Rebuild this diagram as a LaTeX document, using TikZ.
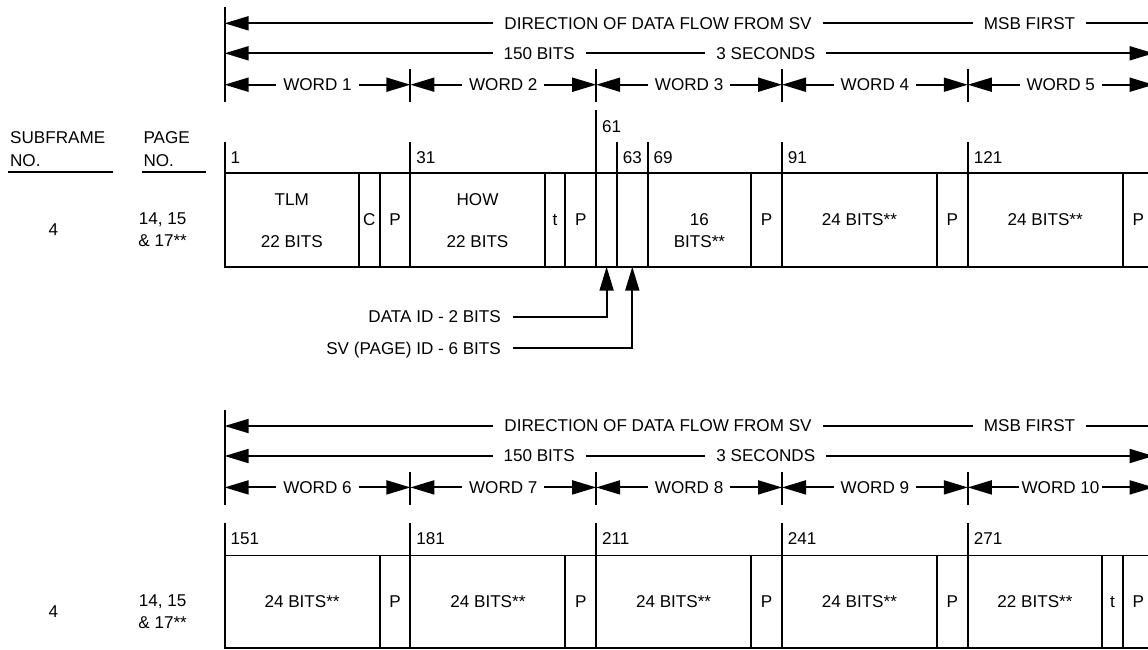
\documentclass[tikz,border=0pt]{standalone}
\usepackage{fontspec}
\setmainfont{Liberation Sans}
\usepackage{tikz}
\usetikzlibrary{arrows.meta,positioning}

\begin{document}
\begin{tikzpicture}[x=1pt,y=-1pt,line width=1.9pt,>={Triangle[length=24pt,width=14pt]},
	font=\fontsize{17.1}{20}\selectfont,
	txt/.style={inner sep=0pt, text height=11.8pt, text depth=0pt},
	hdr/.style={txt, inner xsep=10pt},
	wrd/.style={txt, inner xsep=6pt},
	num/.style={txt, anchor=west, inner xsep=5pt},
	idtxt/.style={txt, anchor=east, inner xsep=11.5pt}]
			\useasboundingbox (0,0) rectangle (1148,649);
			
			% column heads
			\node[txt, anchor=west] (sub) at (9.2,137.3) {SUBFRAME};
			\node[txt] (subno) [below right=9.2pt and 0pt of sub.south west] {NO.};
			\node[txt, anchor=west] (page) at (142.6,137.3) {PAGE};
			\node[txt] (pageno) [below right=9.2pt and 0pt of page.south west] {NO.};
			\draw (8.3,172.3) -- (112.7,172.3) (142.3,172.3) -- (205.7,172.3);
			
			% words 1 to 5
			\draw (224.6,7.3) -- (224.6,102.3)
			(410.4,69) -- (410.4,102.3) (596.2,69) -- (596.2,102.3)
			(782,69) -- (782,102.3) (967.8,69) -- (967.8,102.3)
			(1153.6,69) -- (1153.6,102.3);
			\coordinate (w0) at (224.6,84.7);
			\coordinate (w1) at (410.4,84.7);
			\coordinate (w2) at (596.2,84.7);
			\coordinate (w3) at (782,84.7);
			\coordinate (w4) at (967.8,84.7);
			\coordinate (w5) at (1153.6,84.7);
			
			\node[hdr] (dir1) at (658,23.3) {DIRECTION OF DATA FLOW FROM SV};
			\node[hdr] (msb1) at (1029.5,23.3) {MSB FIRST};
			\node[hdr] (bits1) at (539.2,53.3) {150 BITS};
			\node[hdr] (sec1) at (765.8,53.3) {3 SECONDS};
			\node[wrd] (wd1) at (317.5,84.7) {WORD 1};
			\node[wrd] (wd2) at (503.3,84.7) {WORD 2};
			\node[wrd] (wd3) at (689.1,84.7) {WORD 3};
			\node[wrd] (wd4) at (874.9,84.7) {WORD 4};
			\node[wrd] (wd5) at (1060.7,84.7) {WORD 5};
			
			\path
			(dir1) edge[->] (dir1 -| w0)
			(dir1) edge (msb1)
			(msb1) edge (msb1 -| w5)
			(bits1) edge[->] (bits1 -| w0)
			(bits1) edge (sec1)
			(sec1) edge[->] (sec1 -| w5)
			(wd1) edge[->] (w0) (wd1) edge[->] (w1)
			(wd2) edge[->] (w1) (wd2) edge[->] (w2)
			(wd3) edge[->] (w2) (wd3) edge[->] (w3)
			(wd4) edge[->] (w3) (wd4) edge[->] (w4)
			(wd5) edge[->] (w4) (wd5) edge[->] (w5);
			
			\node[txt] (sf1) at (53.3,230) {4};
			\node[txt] (pg1) at (162.6,219) {14, 15};
			\node[txt] (pg1b) [below=8.2pt of pg1] {\& 17**};
			
			\draw (224.6,173.3) rectangle (1153.6,266.7);
			\draw (224.6,142.3) -- (224.6,173.3)
			(359,173.3) -- (359,266.7) (379.6,173.3) -- (379.6,266.7)
			(410.4,142.3) -- (410.4,266.7)
			(544.7,173.3) -- (544.7,266.7) (565.3,173.3) -- (565.3,266.7)
			(596.2,110) -- (596.2,266.7)
			(617,142.3) -- (617,266.7) (647.7,142.3) -- (647.7,266.7)
			(751,173.3) -- (751,266.7)
			(782,142.3) -- (782,266.7)
			(936.8,173.3) -- (936.8,266.7)
			(967.8,142.3) -- (967.8,266.7)
			(1122.7,173.3) -- (1122.7,266.7);
			
			\node[num] (n1) at (224.6,157.7) {1};
			\node[num] (n31) at (410.4,157.7) {31};
			\node[num] (n61) at (596.2,126.7) {61};
			\node[num] (n63) at (617,157.7) {63};
			\node[num] (n69) at (647.7,157.7) {69};
			\node[num] (n91) at (782,157.7) {91};
			\node[num] (n121) at (967.8,157.7) {121};
			
			\node[txt] (tlm) at (291.8,199.3) {TLM};
			\node[txt] (tlmb) [below=28.9pt of tlm] {22 BITS};
			\node[txt] (c1) at (369.3,220) {C};
			\node[txt] (p1) at (395,220) {P};
			\node[txt] (how) at (477.5,199.3) {HOW};
			\node[txt] (howb) [below=28.9pt of how] {22 BITS};
			\node[txt] (t2) at (555,220) {t};
			\node[txt] (p2) at (580.7,220) {P};
			\node[txt] (d3) at (699.4,220) {16};
			\node[txt] (d3b) [below=8.2pt of d3] {BITS**};
			\node[txt] (p3) at (766.5,220) {P};
			\node[txt] (d4) at (859.4,220) {24 BITS**};
			\node[txt] (p4) at (952.3,220) {P};
			\node[txt] (d5) at (1045.2,220) {24 BITS**};
			\node[txt] (p5) at (1138.2,220) {P};
			
			% data id and sv id
			\coordinate (did) at (606.6,266.7);
			\coordinate (sid) at (632.3,266.7);
			\node[idtxt] (dataid) at (513.3,316.7) {DATA ID - 2 BITS};
			\node[idtxt] (svid) at (513.3,348.3) {SV (PAGE) ID - 6 BITS};
			\draw[->] (dataid) -| (did);
			\draw[->] (svid) -| (sid);
			
			% words 6 to 10
			\draw (224.6,410) -- (224.6,505)
			(410.4,471.7) -- (410.4,505) (596.2,471.7) -- (596.2,505)
			(782,471.7) -- (782,505) (967.8,471.7) -- (967.8,505)
			(1153.6,471.7) -- (1153.6,505);
			\coordinate (v0) at (224.6,487.4);
			\coordinate (v1) at (410.4,487.4);
			\coordinate (v2) at (596.2,487.4);
			\coordinate (v3) at (782,487.4);
			\coordinate (v4) at (967.8,487.4);
			\coordinate (v5) at (1153.6,487.4);
			
			\node[hdr] (dir2) at (658,426) {DIRECTION OF DATA FLOW FROM SV};
			\node[hdr] (msb2) at (1029.5,426) {MSB FIRST};
			\node[hdr] (bits2) at (539.2,456) {150 BITS};
			\node[hdr] (sec2) at (765.8,456) {3 SECONDS};
			\node[wrd] (wd6) at (317.5,487.4) {WORD 6};
			\node[wrd] (wd7) at (503.3,487.4) {WORD 7};
			\node[wrd] (wd8) at (689.1,487.4) {WORD 8};
			\node[wrd] (wd9) at (874.9,487.4) {WORD 9};
			\node[wrd, inner xsep=2pt] (wd10) at (1060.5,487.4) {WORD 10};
			
			\path
			(dir2) edge[->] (dir2 -| v0)
			(dir2) edge (msb2)
			(msb2) edge (msb2 -| v5)
			(bits2) edge[->] (bits2 -| v0)
			(bits2) edge (sec2)
			(sec2) edge[->] (sec2 -| v5)
			(wd6) edge[->] (v0) (wd6) edge[->] (v1)
			(wd7) edge[->] (v1) (wd7) edge[->] (v2)
			(wd8) edge[->] (v2) (wd8) edge[->] (v3)
			(wd9) edge[->] (v3) (wd9) edge[->] (v4)
			(wd10) edge[->] (v4) (wd10) edge[->] (v5);
			
			\node[txt] (sf2) at (53.3,611.7) {4};
			\node[txt] (pg2) at (162.6,600.5) {14, 15};
			\node[txt] (pg2b) [below=8.2pt of pg2] {\& 17**};
			
			\draw (224.6,555.5) rectangle (1153.6,648);
			\draw (224.6,523.3) -- (224.6,555.5)
			(379.6,555.5) -- (379.6,648)
			(410.4,523.3) -- (410.4,648)
			(565.3,555.5) -- (565.3,648)
			(596.2,523.3) -- (596.2,648)
			(751,555.5) -- (751,648)
			(782,523.3) -- (782,648)
			(936.8,555.5) -- (936.8,648)
			(967.8,523.3) -- (967.8,648)
			(1102.3,555.5) -- (1102.3,648) (1122.7,555.5) -- (1122.7,648);
			
			\node[num] (n151) at (224.6,538.3) {151};
			\node[num] (n181) at (410.4,538.3) {181};
			\node[num] (n211) at (596.2,538.3) {211};
			\node[num] (n241) at (782,538.3) {241};
			\node[num] (n271) at (967.8,538.3) {271};
			
			\node[txt] (d6) at (302.1,601.7) {24 BITS**};
			\node[txt] (p6) at (395,601.7) {P};
			\node[txt] (d7) at (487.9,601.7) {24 BITS**};
			\node[txt] (p7) at (580.8,601.7) {P};
			\node[txt] (d8) at (673.6,601.7) {24 BITS**};
			\node[txt] (p8) at (766.5,601.7) {P};
			\node[txt] (d9) at (859.4,601.7) {24 BITS**};
			\node[txt] (p9) at (952.3,601.7) {P};
			\node[txt] (d10) at (1035,601.7) {22 BITS**};
			\node[txt] (t10) at (1112.5,601.7) {t};
			\node[txt] (p10) at (1138.2,601.7) {P};
			
\end{tikzpicture}
\end{document}
